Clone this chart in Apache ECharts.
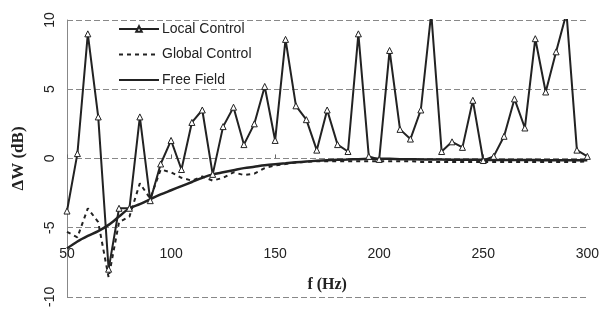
<!DOCTYPE html>
<html>
<head>
<meta charset="utf-8">
<script src="https://cdn.jsdelivr.net/npm/echarts@6/dist/echarts.min.js"></script>
<style>
html,body{margin:0;padding:0;background:#fff;}
#c{width:602px;height:310px;}
</style>
</head>
<body>
<div id="c"></div>
<script>
var freqs = [50,55,60,65,70,75,80,85,90,95,100,105,110,115,120,125,130,135,140,145,150,155,160,165,170,175,180,185,190,195,200,205,210,215,220,225,230,235,240,245,250,255,260,265,270,275,280,285,290,295,300];
var localControl = [-3.8,0.35,9.0,3.0,-8.0,-3.6,-3.6,3.0,-3.05,-0.4,1.3,-0.8,2.6,3.5,-1.15,2.3,3.7,1.0,2.5,5.2,1.3,8.6,3.8,2.8,0.6,3.5,1.0,0.5,9.0,0.15,-0.07,7.8,2.1,1.4,3.5,10.5,0.5,1.2,0.8,4.2,-0.15,0.15,1.6,4.3,2.2,8.65,4.8,7.7,10.5,0.6,0.15];
var globalControl = [-5.3,-5.7,-3.6,-4.6,-8.6,-4.6,-4.2,-1.8,-2.9,-0.8,-1.0,-1.4,-1.6,-1.3,-1.6,-1.4,-1.0,-1.2,-1.1,-0.7,-0.5,-0.4,-0.3,-0.25,-0.2,-0.2,-0.2,-0.2,-0.2,-0.2,-0.2,-0.2,-0.2,-0.2,-0.25,-0.25,-0.25,-0.25,-0.25,-0.25,-0.25,-0.25,-0.25,-0.25,-0.25,-0.25,-0.25,-0.25,-0.25,-0.25,-0.2];
var freeField = [-6.5,-6.0,-5.6,-5.25,-4.8,-4.2,-3.6,-3.3,-2.95,-2.6,-2.3,-2.0,-1.7,-1.4,-1.15,-1.0,-0.85,-0.7,-0.6,-0.5,-0.42,-0.35,-0.28,-0.22,-0.17,-0.13,-0.1,-0.08,-0.05,-0.03,-0.02,-0.03,-0.05,-0.06,-0.07,-0.08,-0.08,-0.09,-0.1,-0.1,-0.1,-0.11,-0.11,-0.12,-0.12,-0.12,-0.13,-0.13,-0.13,-0.13,-0.13];
var xTicks = {min:50, max:300, interval:50};
var yTicks = {min:-10, max:10, interval:5};
var seriesNames = ['Local Control','Global Control','Free Field'];

function pairs(vals){ return freqs.map(function(f,i){ return [f, vals[i]]; }); }

var chart = echarts.init(document.getElementById('c'), null, {renderer:'canvas'});
chart.setOption({
  backgroundColor:'#fff',
  animation:false,
  grid:{left:67, right:14, top:20, bottom:8, containLabel:false},
  legend:{
    orient:'vertical', left:113, top:17, itemWidth:40, itemHeight:7, itemGap:11.5,
    textStyle:{fontFamily:'Liberation Sans, Arial', fontSize:14, color:'#222', padding:[0,0,0,-2]},
    data:[
      {name:seriesNames[0]},
      {name:seriesNames[1], itemStyle:{opacity:0}},
      {name:seriesNames[2], itemStyle:{opacity:0}}
    ]
  },
  xAxis:{
    type:'value', min:xTicks.min, max:xTicks.max, interval:xTicks.interval,
    offset:-70,
    name:'f (Hz)', nameLocation:'middle', nameGap:50,
    nameTextStyle:{fontFamily:'Liberation Serif, Times New Roman', fontWeight:'bold', fontSize:16, color:'#222'},
    axisLine:{show:false},
    axisTick:{show:true, inside:true, length:4, lineStyle:{color:'#666'}},
    axisLabel:{fontFamily:'Liberation Sans, Arial', fontSize:14, color:'#222', margin:20},
    splitLine:{show:false}
  },
  yAxis:{
    type:'value', min:yTicks.min, max:yTicks.max, interval:yTicks.interval,
    name:'\u0394W (dB)', nameLocation:'middle', nameGap:40,
    nameTextStyle:{fontFamily:'Liberation Serif, Times New Roman', fontWeight:'bold', fontSize:17, color:'#222'},
    axisLine:{show:true, lineStyle:{color:'#888', width:1}},
    axisTick:{show:false},
    axisLabel:{rotate:90, fontFamily:'Liberation Sans, Arial', fontSize:14, color:'#222', margin:10},
    splitLine:{show:true, lineStyle:{color:'#888', type:[6,3], width:1}}
  },
  series:[
    {name:'Free Field', type:'line', data:pairs(freeField), showSymbol:false, symbol:'none', smooth:0.3,
     lineStyle:{color:'#222', width:2.5}, itemStyle:{color:'#222'}, z:2},
    {name:'Global Control', type:'line', data:pairs(globalControl), showSymbol:false, symbol:'none',
     lineStyle:{color:'#222', width:2, type:[4,4]}, itemStyle:{color:'#222'}, z:3},
    {name:'Local Control', type:'line', data:pairs(localControl), symbol:'triangle', symbolSize:6,
     lineStyle:{color:'#222', width:2}, itemStyle:{color:'#fff', borderColor:'#222', borderWidth:1}, z:4}
  ]
});
</script>
</body>
</html>
